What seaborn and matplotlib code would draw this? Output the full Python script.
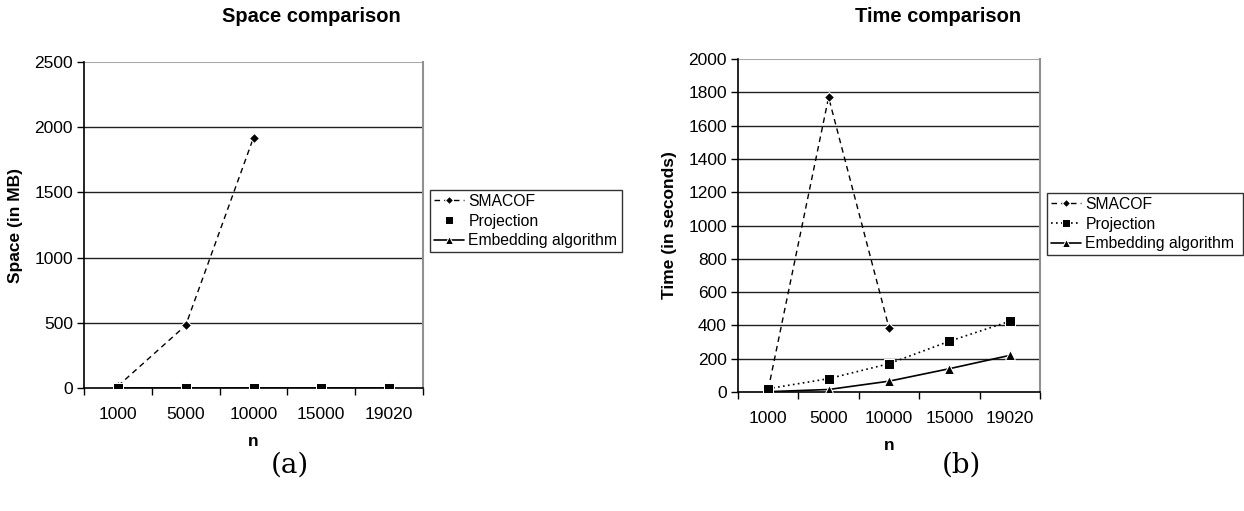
import matplotlib
matplotlib.use("Agg")
import matplotlib.pyplot as plt
import seaborn as sns
import numpy as np

sns.set_theme(style="white")
plt.rcParams['font.family'] = ['Liberation Sans', 'DejaVu Sans']
plt.rcParams['text.color'] = 'black'
plt.rcParams['axes.labelcolor'] = 'black'

categories = ["1000", "5000", "10000", "15000", "19020"]

space_smacof = [15, 480, 1920]
space_projection = [0, 0, 0, 0, 0]
space_embedding = [0, 0, 0, 0, 0]

time_smacof = [15, 1770, 385]
time_projection = [20, 80, 170, 305, 425]
time_embedding = [2, 15, 65, 140, 220]

series_names = ["SMACOF", "Projection", "Embedding algorithm"]

fig = plt.figure(figsize=(12.44, 5.11), dpi=100)
axL = fig.add_axes([84/1244, 123/511, 339/1244, 326/511])
axR = fig.add_axes([738/1244, 119/511, 302/1244, 333/511])

def draw(ax, smacof, proj, emb, proj_ls, ymax, ystep, ylabel, title_x, title, legend_box, proj_zorder):
    xs = np.arange(len(categories))
    sns.lineplot(x=xs[:len(smacof)], y=smacof, ax=ax, color="black", linestyle=(0, (4, 3)),
                 linewidth=1.0, marker="D", markersize=5, label=series_names[0], zorder=4)
    sns.lineplot(x=xs[:len(proj)], y=proj, ax=ax, color="black", linestyle=proj_ls,
                 linewidth=1.2, marker="s", markersize=6.5, label=series_names[1], zorder=proj_zorder)
    sns.lineplot(x=xs[:len(emb)], y=emb, ax=ax, color="black", linestyle="-",
                 linewidth=1.2, marker="^", markersize=6.5, label=series_names[2], zorder=3)
    ax.set_xlim(-0.5, len(categories) - 0.5)
    ax.set_ylim(0, ymax)
    ax.set_xticks(xs)
    ax.set_xticklabels(categories)
    ax.set_xticks(np.arange(-0.5, len(categories), 1.0), minor=True)
    ax.tick_params(axis="x", which="major", length=0, pad=14, labelsize=12.5, colors="black")
    ax.tick_params(axis="x", which="minor", length=5, width=1, direction="out", color="black", bottom=True)
    ax.set_yticks(np.arange(0, ymax + 1, ystep))
    ax.tick_params(axis="y", which="major", length=5, width=1, direction="out", left=True,
                   labelsize=12.5, colors="black", pad=3)
    for y in np.arange(ystep, ymax, ystep):
        ax.axhline(y, color="#202020", linewidth=1.0, zorder=1)
    ax.axhline(ymax, color="#a8a8a8", linewidth=1.5, zorder=1)
    for s in ["left", "bottom"]:
        ax.spines[s].set_color("black")
        ax.spines[s].set_linewidth(1.2)
    ax.spines["top"].set_visible(False)
    ax.spines["right"].set_color("#909090")
    ax.spines["right"].set_linewidth(1.5)
    ax.set_xlabel("n", fontsize=12.5, fontweight="bold", labelpad=8, color="black")
    ax.set_ylabel(ylabel, fontsize=12.5, fontweight="bold", labelpad=8, color="black")
    fig.text(title_x / 1244, 1 - 16 / 511, title, ha="center", va="center",
             fontsize=14.5, fontweight="bold", color="black")
    x0, y0, x1, y1 = legend_box
    leg = ax.legend(loc="upper left",
                    bbox_to_anchor=(x0 / 1244, 1 - y1 / 511, (x1 - x0) / 1244, (y1 - y0) / 511),
                    bbox_transform=fig.transFigure, mode="expand", frameon=True, fancybox=False,
                    fontsize=11.3, handlelength=1.9, handletextpad=0.3, borderaxespad=0,
                    borderpad=0.25, labelspacing=0.3, markerscale=0.8)
    for t in leg.get_texts():
        t.set_color("black")
    leg.get_frame().set_edgecolor("black")
    leg.get_frame().set_linewidth(1.0)

draw(axL, space_smacof, space_projection, space_embedding, "none", 2500, 500,
     "Space (in MB)", 311, "Space comparison", (430, 190, 622, 259), 5)
draw(axR, time_smacof, time_projection, time_embedding, (0, (1, 2)), 2000, 200,
     "Time (in seconds)", 938, "Time comparison", (1047, 193, 1243, 257), 4)

fig.text(290 / 1244, 1 - 465 / 511, "(a)", ha="center", va="center", fontsize=20,
         family=["DejaVu Serif"], color="black")
fig.text(961 / 1244, 1 - 465 / 511, "(b)", ha="center", va="center", fontsize=20,
         family=["DejaVu Serif"], color="black")

fig.savefig("out.png", dpi=100)
